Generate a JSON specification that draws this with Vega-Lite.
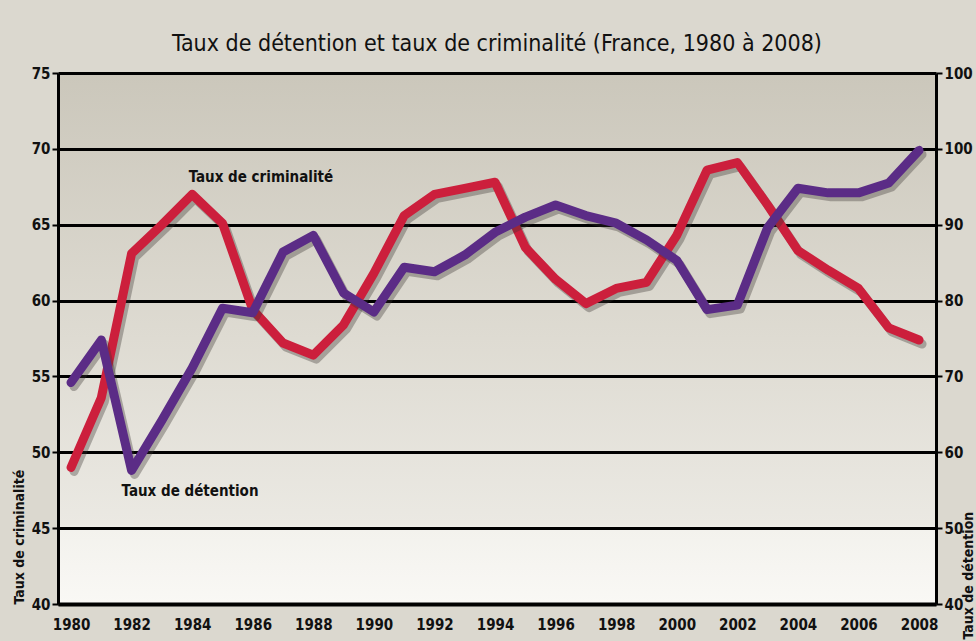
{
  "$schema": "https://vega.github.io/schema/vega-lite/v6.json",
  "width": 878,
  "height": 531,
  "autosize": "none",
  "padding": {"left": 58, "top": 73, "right": 40, "bottom": 37},
  "background": "#dbd8cf",
  "title": {
    "text": "Taux de détention et taux de criminalité (France, 1980 à 2008)",
    "font": "'Liberation Sans Narrow', 'DejaVu Sans Condensed', 'Roboto Condensed', sans-serif",
    "fontSize": 23,
    "fontWeight": "normal",
    "color": "#111111",
    "anchor": "middle",
    "offset": 10
  },
  "config": {
    "view": {
      "stroke": null,
      "fill": {
        "gradient": "linear",
        "x1": 0, "y1": 0, "x2": 0, "y2": 1,
        "stops": [
          {"offset": 0, "color": "#cbc7bb"},
          {"offset": 0.5, "color": "#dedbd2"},
          {"offset": 0.85, "color": "#ebe9e3"},
          {"offset": 0.86, "color": "#f3f2ed"},
          {"offset": 1, "color": "#f9f8f5"}
        ]
      }
    },
    "axis": {
      "labelFont": "'Liberation Sans Narrow', 'DejaVu Sans Condensed', 'Roboto Condensed', sans-serif",
      "labelFontWeight": "bold",
      "labelFontSize": 15,
      "labelColor": "#111111",
      "titleFont": "'Liberation Sans Narrow', 'DejaVu Sans Condensed', 'Roboto Condensed', sans-serif",
      "titleFontWeight": "bold",
      "titleFontSize": 14,
      "titleColor": "#111111"
    }
  },
  "datasets": {
    "crime": [
      {"annee": 1980, "taux": 49.0},
      {"annee": 1981, "taux": 53.6},
      {"annee": 1982, "taux": 63.1},
      {"annee": 1983, "taux": 65.0},
      {"annee": 1984, "taux": 67.0},
      {"annee": 1985, "taux": 65.1},
      {"annee": 1986, "taux": 59.4},
      {"annee": 1987, "taux": 57.2},
      {"annee": 1988, "taux": 56.4},
      {"annee": 1989, "taux": 58.4},
      {"annee": 1990, "taux": 61.8},
      {"annee": 1991, "taux": 65.6},
      {"annee": 1992, "taux": 67.0},
      {"annee": 1993, "taux": 67.4},
      {"annee": 1994, "taux": 67.8},
      {"annee": 1995, "taux": 63.5},
      {"annee": 1996, "taux": 61.4},
      {"annee": 1997, "taux": 59.8},
      {"annee": 1998, "taux": 60.8},
      {"annee": 1999, "taux": 61.2},
      {"annee": 2000, "taux": 64.3},
      {"annee": 2001, "taux": 68.6},
      {"annee": 2002, "taux": 69.1},
      {"annee": 2003, "taux": 66.3},
      {"annee": 2004, "taux": 63.3},
      {"annee": 2005, "taux": 62.0},
      {"annee": 2006, "taux": 60.8},
      {"annee": 2007, "taux": 58.2},
      {"annee": 2008, "taux": 57.4}
    ],
    "detention": [
      {"annee": 1980, "taux": 69.2},
      {"annee": 1981, "taux": 74.8},
      {"annee": 1982, "taux": 57.6},
      {"annee": 1983, "taux": 64.2},
      {"annee": 1984, "taux": 71.1},
      {"annee": 1985, "taux": 79.0},
      {"annee": 1986, "taux": 78.4},
      {"annee": 1987, "taux": 86.4},
      {"annee": 1988, "taux": 88.6},
      {"annee": 1989, "taux": 81.0},
      {"annee": 1990, "taux": 78.5},
      {"annee": 1991, "taux": 84.4},
      {"annee": 1992, "taux": 83.8},
      {"annee": 1993, "taux": 86.0},
      {"annee": 1994, "taux": 89.0},
      {"annee": 1995, "taux": 91.0},
      {"annee": 1996, "taux": 92.6},
      {"annee": 1997, "taux": 91.2},
      {"annee": 1998, "taux": 90.2},
      {"annee": 1999, "taux": 88.0},
      {"annee": 2000, "taux": 85.3},
      {"annee": 2001, "taux": 78.8},
      {"annee": 2002, "taux": 79.4},
      {"annee": 2003, "taux": 89.6},
      {"annee": 2004, "taux": 94.8},
      {"annee": 2005, "taux": 94.2},
      {"annee": 2006, "taux": 94.2},
      {"annee": 2007, "taux": 95.5},
      {"annee": 2008, "taux": 99.8}
    ],
    "etiquettes": [
      {"annee": 1986.27, "taux": 68.14, "texte": "Taux de criminalité"},
      {"annee": 1983.93, "taux": 47.45, "texte": "Taux de détention"}
    ]
  },
  "layer": [
    {
      "layer": [
        {
          "data": {"name": "crime"},
          "mark": {"type": "line", "color": "#3a3530", "opacity": 0.35, "strokeWidth": 9, "strokeCap": "round", "strokeJoin": "round", "xOffset": 3, "yOffset": 4},
          "encoding": {
            "x": {"field": "annee", "type": "quantitative", "scale": {"domain": [1979.57, 2008.56], "nice": false, "zero": false},
              "axis": {"values": [1980,1982,1984,1986,1988,1990,1992,1994,1996,1998,2000,2002,2004,2006,2008], "format": "d", "title": null, "grid": false, "ticks": false, "domainColor": "#000000", "domainWidth": 4, "labelPadding": 13, "labelFlush": false}},
            "y": {"field": "taux", "type": "quantitative", "scale": {"domain": [40, 75], "nice": false, "zero": false},
              "axis": {"orient": "left", "values": [40,45,50,55,60,65,70,75], "grid": true, "gridColor": "#000000", "gridWidth": 3, "gridOpacity": 1, "domainColor": "#000000", "domainWidth": 3, "tickColor": "#000000", "tickWidth": 2, "tickSize": 6, "labelPadding": 2, "title": "Taux de criminalité", "titleAnchor": "start", "titleAngle": 270, "titlePadding": 5}}
          }
        },
        {
          "data": {"name": "crime"},
          "mark": {"type": "line", "color": "#cc1f3c", "strokeWidth": 9, "strokeCap": "round", "strokeJoin": "round"},
          "encoding": {
            "x": {"field": "annee", "type": "quantitative"},
            "y": {"field": "taux", "type": "quantitative"}
          }
        },
        {
          "data": {"name": "etiquettes"},
          "mark": {"type": "text", "font": "'Liberation Sans Narrow', 'DejaVu Sans Condensed', 'Roboto Condensed', sans-serif", "fontWeight": "bold", "fontSize": 15, "color": "#111111", "align": "center", "baseline": "middle"},
          "encoding": {
            "x": {"field": "annee", "type": "quantitative"},
            "y": {"field": "taux", "type": "quantitative"},
            "text": {"field": "texte"}
          }
        }
      ]
    },
    {
      "layer": [
        {
          "data": {"name": "detention"},
          "mark": {"type": "line", "color": "#3a3530", "opacity": 0.35, "strokeWidth": 9, "strokeCap": "round", "strokeJoin": "round", "xOffset": 3, "yOffset": 4},
          "encoding": {
            "x": {"field": "annee", "type": "quantitative"},
            "y": {"field": "taux", "type": "quantitative", "scale": {"domain": [40, 110], "nice": false, "zero": false},
              "axis": {"orient": "right", "values": [40,50,60,70,80,90,100,110], "labelExpr": "datum.value == 110 ? '100' : datum.label", "grid": false, "domainColor": "#000000", "domainWidth": 3, "tickColor": "#000000", "tickWidth": 2, "tickSize": 6, "labelPadding": 2, "title": "Taux de détention", "titleAnchor": "start", "titleAngle": 270, "titleAlign": "left", "titleBaseline": "middle", "titleY": 566, "titleX": 32}}
          }
        },
        {
          "data": {"name": "detention"},
          "mark": {"type": "line", "color": "#5b2c86", "strokeWidth": 9, "strokeCap": "round", "strokeJoin": "round"},
          "encoding": {
            "x": {"field": "annee", "type": "quantitative"},
            "y": {"field": "taux", "type": "quantitative"}
          }
        }
      ]
    }
  ],
  "resolve": {"scale": {"y": "independent"}}
}
